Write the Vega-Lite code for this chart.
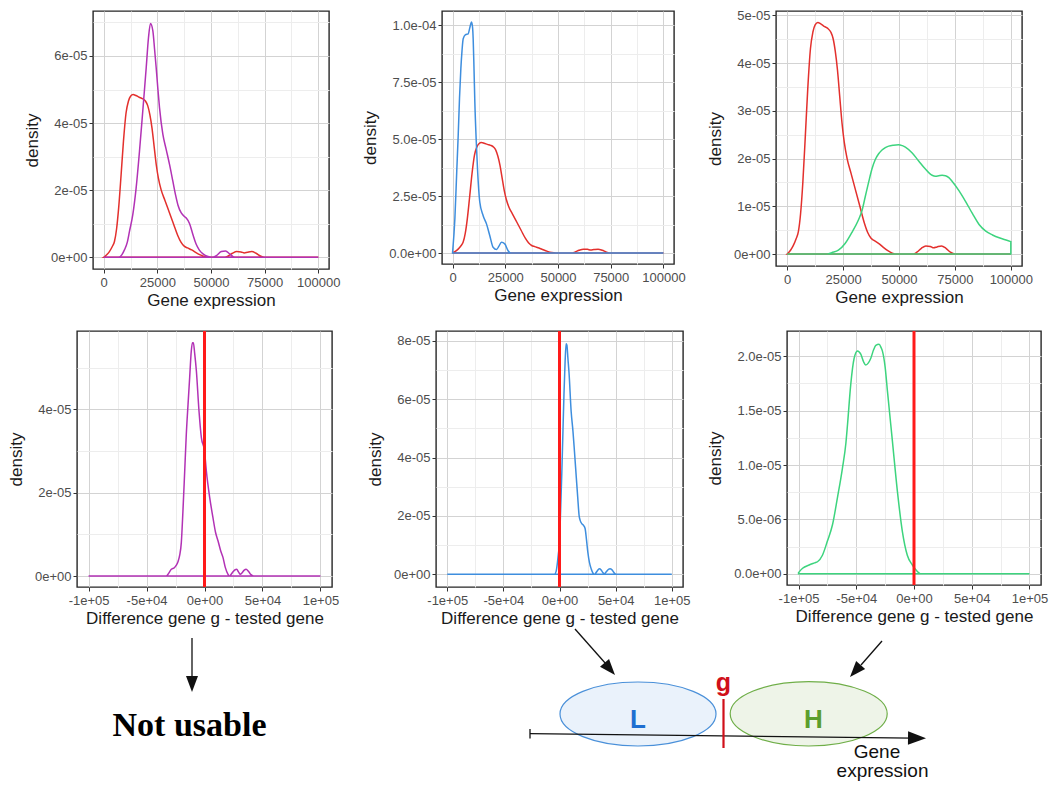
{
"$schema": "https://vega.github.io/schema/vega-lite/v6.json",
"padding": {"left": 6, "top": 8, "right": 0, "bottom": 0},
"background": "white",
"config": {
  "font": "Liberation Sans",
  "view": {"stroke": "#262626", "strokeWidth": 1.4},
  "axis": {"domain": false, "labelFont": "Liberation Sans", "labelFontSize": 13, "labelColor": "#4D4D4D", "titleFont": "Liberation Sans", "titleFontSize": 17, "titleFontWeight": "normal", "titleColor": "#1A1A1A", "tickColor": "#333333", "tickSize": 4, "tickWidth": 1, "labelPadding": 2, "titlePadding": 3, "gridWidth": 1, "labelOverlap": false, "labelFlush": false},
  "axisX": {"labelPadding": 3},
  "axisY": {"titlePadding": 9}
},
"datasets": {
  "red_expr": [{"x":0,"density":0},{"x":1500,"density":0.08e-5},{"x":2650,"density":0.17e-5},{"x":4000,"density":0.32e-5},{"x":5000,"density":0.47e-5},{"x":6000,"density":0.85e-5},{"x":7000,"density":1.5e-5},{"x":8100,"density":2.46e-5},{"x":9200,"density":3.46e-5},{"x":10400,"density":4.3e-5},{"x":11500,"density":4.65e-5},{"x":12500,"density":4.8e-5},{"x":13700,"density":4.85e-5},{"x":15000,"density":4.82e-5},{"x":16500,"density":4.77e-5},{"x":18000,"density":4.73e-5},{"x":19500,"density":4.65e-5},{"x":20500,"density":4.52e-5},{"x":21500,"density":4.25e-5},{"x":22500,"density":3.85e-5},{"x":23500,"density":3.3e-5},{"x":24500,"density":2.75e-5},{"x":25500,"density":2.35e-5},{"x":26800,"density":2.0e-5},{"x":28500,"density":1.7e-5},{"x":30500,"density":1.35e-5},{"x":32500,"density":1.0e-5},{"x":34500,"density":0.65e-5},{"x":36000,"density":0.45e-5},{"x":37500,"density":0.33e-5},{"x":39000,"density":0.28e-5},{"x":41000,"density":0.22e-5},{"x":43000,"density":0.14e-5},{"x":45000,"density":0.07e-5},{"x":47000,"density":0.02e-5},{"x":49000,"density":0},{"x":56500,"density":0},{"x":58000,"density":0.04e-5},{"x":60000,"density":0.12e-5},{"x":62000,"density":0.17e-5},{"x":64000,"density":0.16e-5},{"x":65500,"density":0.13e-5},{"x":67000,"density":0.15e-5},{"x":69000,"density":0.17e-5},{"x":71000,"density":0.12e-5},{"x":73000,"density":0.04e-5},{"x":75000,"density":0},{"x":100000,"density":0}],
  "mag_expr": [{"x":0,"density":0},{"x":7000,"density":0},{"x":8500,"density":0.08e-5},{"x":9650,"density":0.22e-5},{"x":11000,"density":0.45e-5},{"x":12000,"density":0.77e-5},{"x":13550,"density":1.27e-5},{"x":15100,"density":2.06e-5},{"x":16670,"density":3.16e-5},{"x":18200,"density":4.36e-5},{"x":19000,"density":5.0e-5},{"x":19800,"density":5.65e-5},{"x":20870,"density":6.55e-5},{"x":21800,"density":6.97e-5},{"x":22900,"density":6.75e-5},{"x":23700,"density":6.2e-5},{"x":24450,"density":5.65e-5},{"x":25200,"density":5.05e-5},{"x":26000,"density":4.46e-5},{"x":27570,"density":3.66e-5},{"x":29130,"density":3.21e-5},{"x":30690,"density":2.76e-5},{"x":32240,"density":2.26e-5},{"x":33500,"density":1.85e-5},{"x":34580,"density":1.56e-5},{"x":36140,"density":1.32e-5},{"x":37500,"density":1.22e-5},{"x":38470,"density":1.17e-5},{"x":40030,"density":1.0e-5},{"x":41590,"density":0.67e-5},{"x":43000,"density":0.4e-5},{"x":44500,"density":0.22e-5},{"x":46260,"density":0.1e-5},{"x":48600,"density":0.02e-5},{"x":50500,"density":0},{"x":52500,"density":0.05e-5},{"x":54800,"density":0.17e-5},{"x":56800,"density":0.19e-5},{"x":58700,"density":0.1e-5},{"x":60300,"density":0.02e-5},{"x":61500,"density":0},{"x":100000,"density":0}],
  "blue_expr": [{"x":0,"density":0},{"x":1100,"density":1.5e-5},{"x":2000,"density":3.6e-5},{"x":2680,"density":5.16e-5},{"x":3300,"density":6.8e-5},{"x":3940,"density":8.1e-5},{"x":4500,"density":8.9e-5},{"x":5050,"density":9.41e-5},{"x":6150,"density":9.59e-5},{"x":7410,"density":9.63e-5},{"x":8200,"density":9.9e-5},{"x":9000,"density":10.15e-5},{"x":9500,"density":9.9e-5},{"x":9780,"density":9.41e-5},{"x":10200,"density":8.0e-5},{"x":10570,"density":6.63e-5},{"x":11200,"density":5.0e-5},{"x":11830,"density":3.7e-5},{"x":12930,"density":2.23e-5},{"x":14510,"density":1.64e-5},{"x":16090,"density":1.28e-5},{"x":17670,"density":0.76e-5},{"x":19240,"density":0.25e-5},{"x":20820,"density":0.15e-5},{"x":22000,"density":0.3e-5},{"x":23190,"density":0.47e-5},{"x":24760,"density":0.4e-5},{"x":26340,"density":0.1e-5},{"x":27600,"density":0},{"x":100000,"density":0}],
  "green_expr": [{"x":0,"density":0},{"x":18000,"density":0},{"x":19900,"density":0.03e-5},{"x":22900,"density":0.08e-5},{"x":25900,"density":0.22e-5},{"x":28900,"density":0.45e-5},{"x":31900,"density":0.72e-5},{"x":33400,"density":0.9e-5},{"x":34900,"density":1.2e-5},{"x":36400,"density":1.5e-5},{"x":37900,"density":1.78e-5},{"x":39400,"density":1.98e-5},{"x":40900,"density":2.1e-5},{"x":42400,"density":2.18e-5},{"x":43900,"density":2.23e-5},{"x":45400,"density":2.26e-5},{"x":47500,"density":2.28e-5},{"x":49850,"density":2.29e-5},{"x":51500,"density":2.27e-5},{"x":52850,"density":2.24e-5},{"x":55800,"density":2.12e-5},{"x":58800,"density":1.95e-5},{"x":61800,"density":1.78e-5},{"x":64800,"density":1.65e-5},{"x":66300,"density":1.63e-5},{"x":67800,"density":1.64e-5},{"x":69300,"density":1.65e-5},{"x":70800,"density":1.64e-5},{"x":72300,"density":1.6e-5},{"x":73800,"density":1.52e-5},{"x":76800,"density":1.33e-5},{"x":79800,"density":1.1e-5},{"x":82800,"density":0.85e-5},{"x":85800,"density":0.62e-5},{"x":88800,"density":0.48e-5},{"x":91800,"density":0.4e-5},{"x":94800,"density":0.34e-5},{"x":97500,"density":0.3e-5},{"x":100000,"density":0.26e-5}],
  "mag_diff": [{"x":-100000,"density":0},{"x":-33000,"density":0},{"x":-31500,"density":0.04e-5},{"x":-28600,"density":0.16e-5},{"x":-26000,"density":0.2e-5},{"x":-24300,"density":0.26e-5},{"x":-22800,"density":0.35e-5},{"x":-21400,"density":0.5e-5},{"x":-20000,"density":0.8e-5},{"x":-18600,"density":1.56e-5},{"x":-17100,"density":2.5e-5},{"x":-15700,"density":3.4e-5},{"x":-14200,"density":4.12e-5},{"x":-12800,"density":4.76e-5},{"x":-11400,"density":5.4e-5},{"x":-10400,"density":5.6e-5},{"x":-9600,"density":5.6e-5},{"x":-8500,"density":5.35e-5},{"x":-7000,"density":4.92e-5},{"x":-4750,"density":3.96e-5},{"x":-2700,"density":3.32e-5},{"x":0,"density":3.0e-5},{"x":1600,"density":2.52e-5},{"x":4500,"density":1.88e-5},{"x":7300,"density":1.4e-5},{"x":9500,"density":1.05e-5},{"x":11700,"density":0.84e-5},{"x":14000,"density":0.6e-5},{"x":16000,"density":0.44e-5},{"x":18000,"density":0.2e-5},{"x":20300,"density":0.04e-5},{"x":21500,"density":0},{"x":23000,"density":0.04e-5},{"x":24600,"density":0.1e-5},{"x":26400,"density":0.15e-5},{"x":27800,"density":0.16e-5},{"x":29300,"density":0.1e-5},{"x":30900,"density":0.04e-5},{"x":32500,"density":0.08e-5},{"x":34300,"density":0.14e-5},{"x":35900,"density":0.16e-5},{"x":37700,"density":0.12e-5},{"x":39500,"density":0.05e-5},{"x":41500,"density":0.01e-5},{"x":43000,"density":0},{"x":100000,"density":0}],
  "blue_diff": [{"x":-100000,"density":0},{"x":-4500,"density":0},{"x":-3000,"density":0.1e-5},{"x":-2000,"density":0.35e-5},{"x":-1000,"density":0.7e-5},{"x":0,"density":1.1e-5},{"x":1000,"density":2.2e-5},{"x":2000,"density":3.4e-5},{"x":3000,"density":4.8e-5},{"x":4000,"density":6.2e-5},{"x":5000,"density":7.3e-5},{"x":5900,"density":7.9e-5},{"x":6600,"density":7.85e-5},{"x":7500,"density":7.4e-5},{"x":8500,"density":6.9e-5},{"x":10400,"density":5.57e-5},{"x":12000,"density":4.9e-5},{"x":13350,"density":4.2e-5},{"x":15000,"density":3.3e-5},{"x":16300,"density":2.6e-5},{"x":17500,"density":2.0e-5},{"x":18400,"density":1.85e-5},{"x":20000,"density":1.73e-5},{"x":21500,"density":1.67e-5},{"x":22800,"density":1.57e-5},{"x":24000,"density":1.2e-5},{"x":25200,"density":0.77e-5},{"x":26700,"density":0.4e-5},{"x":28200,"density":0.19e-5},{"x":29700,"density":0.05e-5},{"x":31200,"density":0},{"x":32600,"density":0.06e-5},{"x":34100,"density":0.14e-5},{"x":35600,"density":0.19e-5},{"x":37100,"density":0.15e-5},{"x":38600,"density":0.06e-5},{"x":40000,"density":0.02e-5},{"x":41500,"density":0.08e-5},{"x":43600,"density":0.17e-5},{"x":45000,"density":0.19e-5},{"x":46600,"density":0.16e-5},{"x":48500,"density":0.06e-5},{"x":50400,"density":0},{"x":100000,"density":0}],
  "green_diff": [{"x":-100000,"density":0.01e-5},{"x":-96500,"density":0.05e-5},{"x":-90800,"density":0.08e-5},{"x":-86000,"density":0.1e-5},{"x":-83600,"density":0.11e-5},{"x":-79300,"density":0.17e-5},{"x":-75000,"density":0.3e-5},{"x":-70600,"density":0.45e-5},{"x":-66300,"density":0.7e-5},{"x":-62000,"density":0.97e-5},{"x":-59000,"density":1.2e-5},{"x":-57600,"density":1.37e-5},{"x":-54800,"density":1.74e-5},{"x":-51900,"density":1.98e-5},{"x":-49000,"density":2.05e-5},{"x":-46100,"density":2.02e-5},{"x":-43700,"density":1.95e-5},{"x":-41800,"density":1.92e-5},{"x":-39500,"density":1.94e-5},{"x":-37500,"density":1.98e-5},{"x":-35000,"density":2.06e-5},{"x":-33100,"density":2.1e-5},{"x":-30300,"density":2.11e-5},{"x":-28500,"density":2.08e-5},{"x":-27400,"density":2.05e-5},{"x":-25000,"density":1.9e-5},{"x":-23000,"density":1.68e-5},{"x":-18700,"density":1.22e-5},{"x":-14400,"density":0.76e-5},{"x":-10100,"density":0.39e-5},{"x":-5800,"density":0.17e-5},{"x":-1400,"density":0.08e-5},{"x":2900,"density":0.02e-5},{"x":5500,"density":0},{"x":100000,"density":0}],
  "zero_line": [{"x":0}]
},
"vconcat": [
 {"vconcat": [
   {"hconcat": [
     {"width": 1, "height": 10, "view": {"stroke": null}, "data": {"values": []}, "mark": "point"},
     {"hconcat": [
       {"width": 236, "height": 258,
        "encoding": {
          "x": {"field": "x", "type": "quantitative", "scale": {"domain": [-5000, 105000], "nice": false, "zero": false}, "axis": {"title": "Gene expression", "values": [0,12500,25000,37500,50000,62500,75000,87500,100000], "format": "d", "labelExpr": "datum.value % 25000 === 0 ? datum.label : ''", "gridColor": {"condition": {"test": "datum.value % 25000 === 0", "value": "#D3D3D3"}, "value": "#EDEDED"}, "tickOpacity": {"condition": {"test": "datum.value % 25000 === 0", "value": 1}, "value": 0}}},
          "y": {"field": "density", "type": "quantitative", "scale": {"domain": [-0.35e-5, 7.34e-5], "nice": false, "zero": false}, "axis": {"title": "density", "values": [0,1e-5,2e-5,3e-5,4e-5,5e-5,6e-5,7e-5], "labelExpr": "abs(datum.value/2e-5 - round(datum.value/2e-5)) < 0.001 ? replace(replace(format(datum.value, '.0e'), 'e-', 'e-0'), 'e+', 'e+0') : ''", "gridColor": {"condition": {"test": "abs(datum.value/2e-5 - round(datum.value/2e-5)) < 0.001", "value": "#D3D3D3"}, "value": "#EDEDED"}, "tickOpacity": {"condition": {"test": "abs(datum.value/2e-5 - round(datum.value/2e-5)) < 0.001", "value": 1}, "value": 0}}},
          "y2": {"datum": 0}},
        "layer": [
         {"data": {"name": "red_expr"}, "mark": {"type": "area", "fillOpacity": 0, "stroke": "#E3302D", "strokeWidth": 1.5, "interpolate": "monotone"}},
         {"data": {"name": "mag_expr"}, "mark": {"type": "area", "fillOpacity": 0, "stroke": "#B232B5", "strokeWidth": 1.5, "interpolate": "monotone"}}
       ]},
       {"width": 232, "height": 253,
        "encoding": {
          "x": {"field": "x", "type": "quantitative", "scale": {"domain": [-5000, 105000], "nice": false, "zero": false}, "axis": {"title": "Gene expression", "values": [0,12500,25000,37500,50000,62500,75000,87500,100000], "format": "d", "labelExpr": "datum.value % 25000 === 0 ? datum.label : ''", "gridColor": {"condition": {"test": "datum.value % 25000 === 0", "value": "#D3D3D3"}, "value": "#EDEDED"}, "tickOpacity": {"condition": {"test": "datum.value % 25000 === 0", "value": 1}, "value": 0}}},
          "y": {"field": "density", "type": "quantitative", "scale": {"domain": [-0.483e-5, 10.63e-5], "nice": false, "zero": false}, "axis": {"title": "density", "values": [0,1.25e-5,2.5e-5,3.75e-5,5e-5,6.25e-5,7.5e-5,8.75e-5,10e-5], "labelExpr": "abs(datum.value/2.5e-5 - round(datum.value/2.5e-5)) < 0.001 ? replace(replace(format(datum.value, '.1e'), 'e-', 'e-0'), 'e+', 'e+0') : ''", "gridColor": {"condition": {"test": "abs(datum.value/2.5e-5 - round(datum.value/2.5e-5)) < 0.001", "value": "#D3D3D3"}, "value": "#EDEDED"}, "tickOpacity": {"condition": {"test": "abs(datum.value/2.5e-5 - round(datum.value/2.5e-5)) < 0.001", "value": 1}, "value": 0}}},
          "y2": {"datum": 0}},
        "layer": [
         {"data": {"name": "red_expr"}, "mark": {"type": "area", "fillOpacity": 0, "stroke": "#E3302D", "strokeWidth": 1.5, "interpolate": "monotone"}},
         {"data": {"name": "blue_expr"}, "mark": {"type": "area", "fillOpacity": 0, "stroke": "#3E8EDE", "strokeWidth": 1.5, "interpolate": "monotone"}}
       ]},
       {"width": 246, "height": 255,
        "encoding": {
          "x": {"field": "x", "type": "quantitative", "scale": {"domain": [-5000, 105000], "nice": false, "zero": false}, "axis": {"title": "Gene expression", "values": [0,12500,25000,37500,50000,62500,75000,87500,100000], "format": "d", "labelExpr": "datum.value % 25000 === 0 ? datum.label : ''", "gridColor": {"condition": {"test": "datum.value % 25000 === 0", "value": "#D3D3D3"}, "value": "#EDEDED"}, "tickOpacity": {"condition": {"test": "datum.value % 25000 === 0", "value": 1}, "value": 0}}},
          "y": {"field": "density", "type": "quantitative", "scale": {"domain": [-0.25e-5, 5.09e-5], "nice": false, "zero": false}, "axis": {"title": "density", "values": [0,0.5e-5,1e-5,1.5e-5,2e-5,2.5e-5,3e-5,3.5e-5,4e-5,4.5e-5,5e-5], "labelExpr": "abs(datum.value/1e-5 - round(datum.value/1e-5)) < 0.001 ? replace(replace(format(datum.value, '.0e'), 'e-', 'e-0'), 'e+', 'e+0') : ''", "gridColor": {"condition": {"test": "abs(datum.value/1e-5 - round(datum.value/1e-5)) < 0.001", "value": "#D3D3D3"}, "value": "#EDEDED"}, "tickOpacity": {"condition": {"test": "abs(datum.value/1e-5 - round(datum.value/1e-5)) < 0.001", "value": 1}, "value": 0}}},
          "y2": {"datum": 0}},
        "layer": [
         {"data": {"name": "red_expr"}, "mark": {"type": "area", "fillOpacity": 0, "stroke": "#E3302D", "strokeWidth": 1.5, "interpolate": "monotone"}},
         {"data": {"name": "green_expr"}, "mark": {"type": "area", "fillOpacity": 0, "stroke": "#3DD47E", "strokeWidth": 1.5, "interpolate": "monotone"}}
       ]}
     ], "spacing": 19, "bounds": "full"}
   ], "spacing": -56, "bounds": "full"},
   {"hconcat": [
     {"width": 255, "height": 256,
      "encoding": {
        "x": {"field": "x", "type": "quantitative", "scale": {"domain": [-110000, 110000], "nice": false, "zero": false}, "axis": {"title": "Difference gene g - tested gene", "values": [-100000,-75000,-50000,-25000,0,25000,50000,75000,100000], "labelExpr": "datum.value % 50000 === 0 ? (datum.value < 0 ? '-' : '') + replace(replace(format(abs(datum.value), '.0e'), 'e-', 'e-0'), 'e+', 'e+0') : ''", "gridColor": {"condition": {"test": "datum.value % 50000 === 0", "value": "#D3D3D3"}, "value": "#EDEDED"}, "tickOpacity": {"condition": {"test": "datum.value % 50000 === 0", "value": 1}, "value": 0}}}},
      "layer": [
       {"data": {"name": "mag_diff"}, "mark": {"type": "area", "fillOpacity": 0, "stroke": "#B232B5", "strokeWidth": 1.5, "interpolate": "monotone"},
        "encoding": {
          "y": {"field": "density", "type": "quantitative", "scale": {"domain": [-0.264e-5, 5.88e-5], "nice": false, "zero": false}, "axis": {"title": "density", "values": [0,1e-5,2e-5,3e-5,4e-5,5e-5], "labelExpr": "abs(datum.value/2e-5 - round(datum.value/2e-5)) < 0.001 ? replace(replace(format(datum.value, '.0e'), 'e-', 'e-0'), 'e+', 'e+0') : ''", "gridColor": {"condition": {"test": "abs(datum.value/2e-5 - round(datum.value/2e-5)) < 0.001", "value": "#D3D3D3"}, "value": "#EDEDED"}, "tickOpacity": {"condition": {"test": "abs(datum.value/2e-5 - round(datum.value/2e-5)) < 0.001", "value": 1}, "value": 0}}},
          "y2": {"datum": 0}}},
       {"data": {"name": "zero_line"}, "mark": {"type": "rule", "color": "#FF1A1A", "strokeWidth": 3}}
     ]},
     {"width": 247, "height": 256,
      "encoding": {
        "x": {"field": "x", "type": "quantitative", "scale": {"domain": [-110000, 110000], "nice": false, "zero": false}, "axis": {"title": "Difference gene g - tested gene", "values": [-100000,-75000,-50000,-25000,0,25000,50000,75000,100000], "labelExpr": "datum.value % 50000 === 0 ? (datum.value < 0 ? '-' : '') + replace(replace(format(abs(datum.value), '.0e'), 'e-', 'e-0'), 'e+', 'e+0') : ''", "gridColor": {"condition": {"test": "datum.value % 50000 === 0", "value": "#D3D3D3"}, "value": "#EDEDED"}, "tickOpacity": {"condition": {"test": "datum.value % 50000 === 0", "value": 1}, "value": 0}}}},
      "layer": [
       {"data": {"name": "blue_diff"}, "mark": {"type": "area", "fillOpacity": 0, "stroke": "#3E8EDE", "strokeWidth": 1.5, "interpolate": "monotone"},
        "encoding": {
          "y": {"field": "density", "type": "quantitative", "scale": {"domain": [-0.435e-5, 8.34e-5], "nice": false, "zero": false}, "axis": {"title": "density", "values": [0,1e-5,2e-5,3e-5,4e-5,5e-5,6e-5,7e-5,8e-5], "labelExpr": "abs(datum.value/2e-5 - round(datum.value/2e-5)) < 0.001 ? replace(replace(format(datum.value, '.0e'), 'e-', 'e-0'), 'e+', 'e+0') : ''", "gridColor": {"condition": {"test": "abs(datum.value/2e-5 - round(datum.value/2e-5)) < 0.001", "value": "#D3D3D3"}, "value": "#EDEDED"}, "tickOpacity": {"condition": {"test": "abs(datum.value/2e-5 - round(datum.value/2e-5)) < 0.001", "value": 1}, "value": 0}}},
          "y2": {"datum": 0}}},
       {"data": {"name": "zero_line"}, "mark": {"type": "rule", "color": "#FF1A1A", "strokeWidth": 3}}
     ]},
     {"width": 254, "height": 254,
      "encoding": {
        "x": {"field": "x", "type": "quantitative", "scale": {"domain": [-110000, 110000], "nice": false, "zero": false}, "axis": {"title": "Difference gene g - tested gene", "values": [-100000,-75000,-50000,-25000,0,25000,50000,75000,100000], "labelExpr": "datum.value % 50000 === 0 ? (datum.value < 0 ? '-' : '') + replace(replace(format(abs(datum.value), '.0e'), 'e-', 'e-0'), 'e+', 'e+0') : ''", "gridColor": {"condition": {"test": "datum.value % 50000 === 0", "value": "#D3D3D3"}, "value": "#EDEDED"}, "tickOpacity": {"condition": {"test": "datum.value % 50000 === 0", "value": 1}, "value": 0}}}},
      "layer": [
       {"data": {"name": "green_diff"}, "mark": {"type": "area", "fillOpacity": 0, "stroke": "#3DD47E", "strokeWidth": 1.5, "interpolate": "monotone"},
        "encoding": {
          "y": {"field": "density", "type": "quantitative", "scale": {"domain": [-0.104e-5, 2.233e-5], "nice": false, "zero": false}, "axis": {"title": "density", "values": [0,0.25e-5,0.5e-5,0.75e-5,1e-5,1.25e-5,1.5e-5,1.75e-5,2e-5], "labelExpr": "abs(datum.value/0.5e-5 - round(datum.value/0.5e-5)) < 0.001 ? replace(replace(format(datum.value, '.1e'), 'e-', 'e-0'), 'e+', 'e+0') : ''", "gridColor": {"condition": {"test": "abs(datum.value/0.5e-5 - round(datum.value/0.5e-5)) < 0.001", "value": "#D3D3D3"}, "value": "#EDEDED"}, "tickOpacity": {"condition": {"test": "abs(datum.value/0.5e-5 - round(datum.value/0.5e-5)) < 0.001", "value": 1}, "value": 0}}},
          "y2": {"datum": 0}}},
       {"data": {"name": "zero_line"}, "mark": {"type": "rule", "color": "#FF1A1A", "strokeWidth": 3}}
     ]}
   ], "spacing": 104, "bounds": "flush"}
 ], "spacing": 19, "bounds": "full"},
 {"width": 960, "height": 158, "view": {"stroke": null},
  "encoding": {
    "x": {"field": "x", "type": "quantitative", "scale": {"domain": [77, 1037], "nice": false, "zero": false}, "axis": null},
    "y": {"field": "y", "type": "quantitative", "scale": {"domain": [626, 784], "nice": false, "zero": false, "reverse": true}, "axis": null}},
  "layer": [
   {"data": {"values": [{"x": 638, "y": 713}]}, "mark": {"type": "point", "shape": "M -1 0 A 1 0.41 0 1 1 1 0 A 1 0.41 0 1 1 -1 0 Z", "size": 24336, "filled": true, "fill": "#EAF2FB", "stroke": "#4A90D9", "strokeWidth": 1.2, "opacity": 1}},
   {"data": {"values": [{"x": 808.7, "y": 712.8}]}, "mark": {"type": "point", "shape": "M -1 0 A 1 0.41 0 1 1 1 0 A 1 0.41 0 1 1 -1 0 Z", "size": 24649, "filled": true, "fill": "#EEF4E8", "stroke": "#6FAE48", "strokeWidth": 1.2, "opacity": 1}},
   {"data": {"values": [{"x": 192, "y": 637, "x2": 192, "y2": 678}, {"x": 575, "y": 628, "x2": 606, "y2": 663}, {"x": 882, "y": 640, "x2": 861, "y2": 664}, {"x": 530, "y": 732.7, "x2": 912, "y2": 737.1}, {"x": 530, "y": 728, "x2": 530, "y2": 737.5}]},
    "mark": {"type": "rule", "color": "#111111", "strokeWidth": 1.3},
    "encoding": {"x2": {"field": "x2"}, "y2": {"field": "y2"}}},
   {"data": {"values": [{"x": 723.5, "y": 698, "x2": 723.5, "y2": 747}]},
    "mark": {"type": "rule", "color": "#D0101A", "strokeWidth": 2.2},
    "encoding": {"x2": {"field": "x2"}, "y2": {"field": "y2"}}},
   {"data": {"values": [{"x": 192, "y": 691}]}, "mark": {"type": "point", "shape": "M 0 0 L -0.75 2 L 0.75 2 Z", "size": 256, "filled": true, "color": "#111111", "opacity": 1, "angle": 180}},
   {"data": {"values": [{"x": 615, "y": 674}]}, "mark": {"type": "point", "shape": "M 0 0 L -0.75 2 L 0.75 2 Z", "size": 256, "filled": true, "color": "#111111", "opacity": 1, "angle": 139}},
   {"data": {"values": [{"x": 850, "y": 676}]}, "mark": {"type": "point", "shape": "M 0 0 L -0.75 2 L 0.75 2 Z", "size": 256, "filled": true, "color": "#111111", "opacity": 1, "angle": 221.6}},
   {"data": {"values": [{"x": 926, "y": 737.3}]}, "mark": {"type": "point", "shape": "M 0 0 L -0.75 2 L 0.75 2 Z", "size": 324, "filled": true, "color": "#111111", "opacity": 1, "angle": 90.7}},
   {"data": {"values": [{"x": 189.5, "y": 735, "label": "Not usable"}]}, "mark": {"type": "text", "font": "Liberation Serif", "fontWeight": "bold", "fontSize": 34, "color": "#000000", "align": "center", "baseline": "alphabetic"},
    "encoding": {"text": {"field": "label"}}},
   {"data": {"values": [{"x": 638, "y": 727, "label": "L"}]}, "mark": {"type": "text", "fontWeight": "bold", "fontSize": 26, "color": "#1F6FD1", "align": "center", "baseline": "alphabetic"},
    "encoding": {"text": {"field": "label"}}},
   {"data": {"values": [{"x": 813.5, "y": 727, "label": "H"}]}, "mark": {"type": "text", "fontWeight": "bold", "fontSize": 26, "color": "#5B9E2D", "align": "center", "baseline": "alphabetic"},
    "encoding": {"text": {"field": "label"}}},
   {"data": {"values": [{"x": 723.5, "y": 690, "label": "g"}]}, "mark": {"type": "text", "fontWeight": "bold", "fontSize": 25, "color": "#D0101A", "align": "center", "baseline": "alphabetic"},
    "encoding": {"text": {"field": "label"}}},
   {"data": {"values": [{"x": 877, "y": 757, "label": "Gene"}, {"x": 882.5, "y": 776, "label": "expression"}]}, "mark": {"type": "text", "fontSize": 19, "color": "#111111", "align": "center", "baseline": "alphabetic"},
    "encoding": {"text": {"field": "label"}}}
 ]}
],
"spacing": 0,
"bounds": "full"
}
